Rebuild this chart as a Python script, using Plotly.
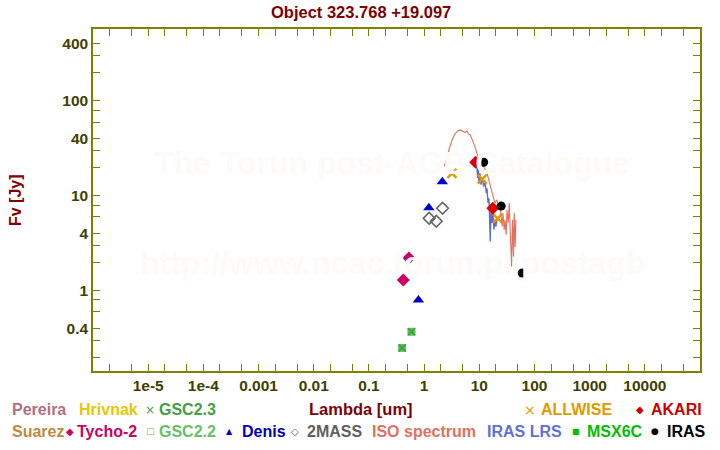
import plotly.graph_objects as go

# ---------------- data ----------------
title_text = "Object 323.768 +19.097"

gsc23_wl = [0.40, 0.59]
gsc23_fl = [0.25, 0.37]
gsc22_wl = [0.40, 0.59]
gsc22_fl = [0.25, 0.37]

tycho_wl = [0.42, 0.53]
tycho_fl = [1.3, 2.22]

denis_wl = [0.79, 1.22, 2.14]
denis_fl = [0.80, 7.5, 14.1]

twomass_wl = [1.235, 1.662, 2.159]
twomass_fl = [5.8, 5.4, 7.4]

allwise_wl = [3.2, 11.3, 21.5]
allwise_fl = [17.3, 15.0, 5.8]

akari_wl = [8.6, 17.6]
akari_fl = [22.6, 7.4]

iras_wl = [12.0, 25.0, 60.0]
iras_fl = [22.6, 7.8, 1.54]

iso_wl = [2.33, 2.50, 2.68, 2.87, 3.08, 3.30, 3.64, 4.06, 4.54, 5.0, 5.51, 5.99,
          6.33, 6.88, 7.59, 8.35, 9.08, 9.75, 10.7, 11.5, 12.7, 13.8, 14.6, 15.8,
          16.7, 18.2, 19.2, 20.9, 22.1, 23.4, 24.7, 26.1, 26.8, 28.3, 29.2, 30.8,
          31.7, 33.5, 34.9, 36.4, 37.4, 38.5, 40.1, 41.8, 43.0, 44.8, 46.1]
iso_fl = [20.4, 23.0, 27.0, 31.8, 36.4, 40.4, 45.0, 48.3, 49.5, 47.5, 46.4, 48.3,
          45.0, 43.9, 38.8, 33.0, 28.1, 24.9, 23.0, 21.2, 19.5, 17.3, 15.4, 13.1,
          11.6, 9.4, 8.4, 9.1, 7.7, 8.4, 6.1, 4.75, 6.6, 4.4, 5.6, 3.9,
          7.1, 5.2, 8.4, 4.4, 2.5, 1.80, 5.6, 2.3, 6.6, 2.9, 5.6]

lrs_wl = [8.45, 8.83, 9.08, 9.33, 9.6, 9.86, 10.3, 10.7, 11.3, 12.0, 12.7, 13.4,
          13.8, 14.4, 15.0, 15.4, 15.8, 16.3, 17.0, 17.7, 18.4, 19.2, 20.0, 20.9]
lrs_fl = [24.3, 23.0, 19.5, 15.4, 20.4, 13.6, 17.3, 13.1, 15.4, 12.5, 14.4, 10.7,
          12.0, 8.4, 9.4, 6.1, 3.3, 7.1, 5.2, 6.6, 4.4, 5.6, 4.75, 5.6]

x_tick_vals = [m * 10.0 ** k for k in range(-6, 6) for m in (1, 2, 5)]
x_label_map = {-5: "1e-5", -4: "1e-4", -3: "0.001", -2: "0.01", -1: "0.1",
               0: "1", 1: "10", 2: "100", 3: "1000", 4: "10000"}
y_tick_vals = [m * 10.0 ** k for k in range(-1, 3) for m in (1, 2, 3, 4, 6, 8)]
y_labels = {0.4: "0.4", 1: "1", 4: "4", 10: "10", 40: "40", 100: "100", 400: "400"}

# ---------------- styling ----------------
FONT = "Liberation Sans, Arial, sans-serif"
SYMF = "DejaVu Sans, sans-serif"
OLIVE = "#808000"
TICKC = "#404000"
DARKRED = "#800000"

# plot area in pixels
L, R, T, B = 93, 700, 29, 371


def px(x):
    return (x - L) / (R - L)


def py(y):
    return (B - y) / (B - T)


fig = go.Figure()

fig.add_trace(go.Scatter(x=iso_wl, y=iso_fl, mode="lines",
                         line=dict(color="#e07060", width=1.1), name="ISO spectrum"))
fig.add_trace(go.Scatter(x=lrs_wl, y=lrs_fl, mode="lines",
                         line=dict(color="#5a6ad8", width=1.3), name="IRAS LRS"))

fig.add_trace(go.Scatter(x=gsc22_wl, y=gsc22_fl, mode="markers", name="GSC2.2",
                         marker=dict(symbol="square", size=8, color="#5cbf5c")))
fig.add_trace(go.Scatter(x=gsc23_wl, y=gsc23_fl, mode="markers", name="GSC2.3",
                         marker=dict(symbol="x-thin-open", size=7, color="#3d9e3d",
                                     line=dict(width=1.5))))
fig.add_trace(go.Scatter(x=tycho_wl, y=tycho_fl, mode="markers", name="Tycho-2",
                         marker=dict(symbol="diamond", size=10, color="#cc0066")))
fig.add_trace(go.Scatter(x=denis_wl, y=denis_fl, mode="markers", name="Denis",
                         marker=dict(symbol="triangle-up", size=10, color="#0000cc")))
fig.add_trace(go.Scatter(x=twomass_wl, y=twomass_fl, mode="markers", name="2MASS",
                         marker=dict(symbol="diamond-open", size=9, color="#666666",
                                     line=dict(width=1.6))))
fig.add_trace(go.Scatter(x=allwise_wl, y=allwise_fl, mode="markers", name="ALLWISE",
                         marker=dict(symbol="x-thin-open", size=9, color="#e09a00",
                                     line=dict(width=2.4))))
fig.add_trace(go.Scatter(x=akari_wl, y=akari_fl, mode="markers", name="AKARI",
                         marker=dict(symbol="diamond", size=10, color="#dd0000")))
fig.add_trace(go.Scatter(x=iras_wl, y=iras_fl, mode="markers", name="IRAS",
                         marker=dict(symbol="circle", size=9, color="#000000")))

ann = []
# watermark
ann.append(dict(text="The Torun post-AGB Catalogue", x=px(392), y=py(163),
                font=dict(family=FONT, size=32, color="#fdfbf7", weight="bold")))
ann.append(dict(text="http://www.ncac.torun.pl/postagb", x=px(392), y=py(263),
                font=dict(family=FONT, size=32, color="#fdfbf7", weight="bold")))
# titles
ann.append(dict(text=title_text, x=px(361), y=py(12),
                font=dict(family=FONT, size=16.5, color=DARKRED, weight="bold")))
ann.append(dict(text="Lambda [um]", x=px(361), y=py(409),
                font=dict(family=FONT, size=16.5, color=DARKRED, weight="bold")))
ann.append(dict(text="Fv [Jy]", x=px(15), y=py(200), textangle=-90,
                font=dict(family=FONT, size=16, color=DARKRED, weight="bold")))

# legend texts: (label, color, left px, row y px)
legend_items = [
    ("Pereira", "#b0707f", 10, 410), ("Hrivnak", "#e6c800", 77, 410),
    ("GSC2.3", "#44a044", 157, 410), ("ALLWISE", "#e09a00", 539, 410),
    ("AKARI", "#cc0000", 649, 410),
    ("Suarez", "#c08a40", 10, 431), ("Tycho-2", "#cc0066", 75, 431),
    ("GSC2.2", "#66c066", 157, 431), ("Denis", "#0000c0", 240, 431),
    ("2MASS", "#606060", 305, 431), ("ISO spectrum", "#e07060", 370, 431),
    ("IRAS LRS", "#6070d8", 485, 431), ("MSX6C", "#00c000", 585, 431),
    ("IRAS", "#000000", 665, 431),
]
for lab, col, lx, ly in legend_items:
    ann.append(dict(text=lab, x=px(lx), y=py(ly), xanchor="left",
                    font=dict(family=FONT, size=16, color=col, weight="bold")))

legend_syms = [
    ("\u00d7", "#44a044", 150, 410, 12), ("\u00d7", "#e09a00", 530, 410, 14),
    ("\u25c6", "#cc0000", 640, 410, 10), ("\u25c6", "#cc0066", 70, 431, 10),
    ("\u25a1", "#66c066", 150, 431, 9), ("\u25b2", "#0000c0", 229, 431, 8),
    ("\u25c7", "#606060", 295, 431, 10), ("\u25a0", "#00c000", 576, 431, 8),
    ("\u25cf", "#000000", 655, 431, 9),
]
for s, col, sx, sy, sz in legend_syms:
    ann.append(dict(text=s, x=px(sx), y=py(sy),
                    font=dict(family=SYMF, size=sz, color=col)))

for a in ann:
    a.setdefault("xref", "paper")
    a.setdefault("yref", "paper")
    a.setdefault("showarrow", False)
    a.setdefault("xanchor", "center")
    a.setdefault("yanchor", "middle")

fig.update_layout(
    width=720, height=450,
    margin=dict(l=L, r=720 - R, t=T, b=450 - B, pad=0, autoexpand=False),
    paper_bgcolor="white", plot_bgcolor="white",
    showlegend=False,
    annotations=ann,
)

fig.update_xaxes(
    type="log", range=[-6, 5],
    tickvals=x_tick_vals,
    ticktext=[x_label_map.get(k, "") if m == 1 else ""
              for k in range(-6, 6) for m in (1, 2, 5)],
    ticks="inside", ticklen=7, tickwidth=1, tickcolor=OLIVE,
    showline=True, linecolor=OLIVE, linewidth=1.5, mirror="ticks",
    showgrid=False, zeroline=False,
    tickfont=dict(family=FONT, size=15.5, color=TICKC, weight="bold"),
)
fig.update_yaxes(
    type="log", range=[-0.845, 2.758],
    tickvals=y_tick_vals,
    ticktext=[y_labels.get(round(v, 6), "") for v in y_tick_vals],
    ticks="inside", ticklen=7, tickwidth=1, tickcolor=OLIVE,
    showline=True, linecolor=OLIVE, linewidth=1.5, mirror="ticks",
    showgrid=False, zeroline=False,
    tickfont=dict(family=FONT, size=15.5, color=TICKC, weight="bold"),
)

fig.write_html(
    "out.html",
    config={"displayModeBar": False},
    post_script="document.body.style.margin='0';document.body.style.overflow='hidden';",
)
